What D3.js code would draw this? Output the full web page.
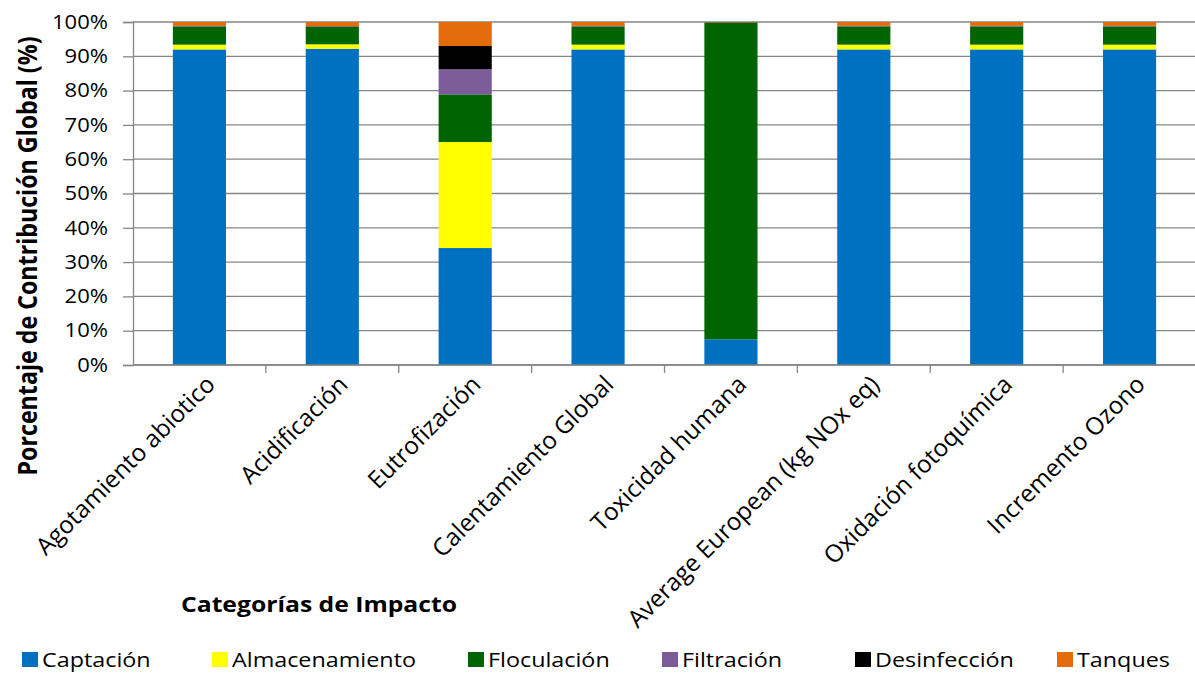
<!DOCTYPE html>
<html>
<head>
<meta charset="utf-8">
<script src="https://cdn.jsdelivr.net/npm/d3@7/dist/d3.min.js"></script>
<style>
body { margin: 0; background: #fff; }
text { font-family: "Open Sans", sans-serif; fill: #000; }
</style>
</head>
<body>
<script>
var w = 1195;
var h = 673;

//datos
//************** */
var categorias = ["Agotamiento abiotico", "Acidificación", "Eutrofización", "Calentamiento Global",
    "Toxicidad humana", "Average European (kg NOx eq)", "Oxidación fotoquímica", "Incremento Ozono"];
var etapas = ["Captación", "Almacenamiento", "Floculación", "Filtración", "Desinfección", "Tanques"];
var colores = ["#0070C0", "#FFFF00", "#006400", "#7B5C99", "#000000", "#E46C0A"];

var captacion      = [92.0, 92.2, 34.1, 92.0, 7.5, 92.0, 92.0, 92.0];
var almacenamiento = [1.4, 1.3, 30.9, 1.4, 0.0, 1.4, 1.4, 1.4];
var floculacion    = [5.3, 5.1, 13.9, 5.3, 92.3, 5.3, 5.3, 5.3];
var filtracion     = [0.1, 0.1, 7.3, 0.1, 0.05, 0.1, 0.1, 0.1];
var desinfeccion   = [0.1, 0.1, 6.8, 0.1, 0.05, 0.1, 0.1, 0.1];
var tanques        = [1.1, 1.2, 7.0, 1.1, 0.1, 1.1, 1.1, 1.1];
var yTicks = [0, 10, 20, 30, 40, 50, 60, 70, 80, 90, 100];

var series = [captacion, almacenamiento, floculacion, filtracion, desinfeccion, tanques];
var tabla = categorias.map(function (c, i) {
    var fila = { cat: c };
    etapas.forEach(function (e, j) { fila[e] = series[j][i]; });
    return fila;
});

var m = { left: 133, right: 1196, top: 22, bottom: 365 };
var sx = 1.15; // texto algo ensanchado como en el original

var svg = d3.select("body").append("svg")
    .attr("width", w)
    .attr("height", h);

var x = d3.scaleBand().domain(categorias).range([m.left, m.right]).paddingInner(0.6).paddingOuter(0.3);
var xb = d3.scaleBand().domain(categorias).range([m.left, m.right]);
var y = d3.scaleLinear().domain([0, 100]).range([m.bottom, m.top]);

//gridlines
svg.append("g")
    .selectAll("line")
    .data(yTicks)
    .enter().append("line")
    .attr("x1", m.left).attr("x2", m.right)
    .attr("y1", function (d) { return y(d); })
    .attr("y2", function (d) { return y(d); })
    .attr("stroke", "#868686")
    .attr("stroke-width", 1.3);

//barras apiladas
var stack = d3.stack().keys(etapas);
svg.append("g")
    .selectAll("g")
    .data(stack(tabla))
    .enter().append("g")
    .attr("fill", function (d, i) { return colores[i]; })
    .selectAll("rect")
    .data(function (d) { return d; })
    .enter().append("rect")
    .attr("x", function (d) { return x(d.data.cat); })
    .attr("width", x.bandwidth())
    .attr("y", function (d) { return y(d[1]); })
    .attr("height", function (d) { return Math.max(0, y(d[0]) - y(d[1])); });

//eje y
var ejeY = svg.append("g")
    .attr("transform", "translate(" + m.left + ",0)")
    .call(d3.axisLeft(y).tickValues(yTicks).tickFormat(function (d) { return d + "%"; }).tickSize(10));
ejeY.selectAll("text")
    .attr("x", 0)
    .attr("transform", "translate(-25,0) scale(1.13,1)")
    .style("font-size", "19.5px");
ejeY.selectAll("path, line").attr("stroke", "#868686").attr("stroke-width", 1.3);

//eje x
var ejeX = svg.append("g")
    .attr("transform", "translate(0," + m.bottom + ")");
ejeX.append("line")
    .attr("x1", m.left).attr("x2", m.right)
    .attr("stroke", "#868686").attr("stroke-width", 1.3);
ejeX.selectAll("line.tk")
    .data(categorias)
    .enter().append("line")
    .attr("class", "tk")
    .attr("x1", function (d) { return xb(d) + xb.bandwidth(); })
    .attr("x2", function (d) { return xb(d) + xb.bandwidth(); })
    .attr("y1", 0).attr("y2", 8)
    .attr("stroke", "#868686").attr("stroke-width", 1.3);
ejeX.selectAll("text")
    .data(categorias)
    .enter().append("text")
    .attr("transform", function (d) {
        return "translate(" + (xb(d) + xb.bandwidth() / 2 + 5) + ",9) rotate(-45)";
    })
    .attr("text-anchor", "end")
    .attr("dy", "0.7em")
    .style("font-size", "24.2px")
    .text(function (d) { return d; });

//titulos
svg.append("text")
    .attr("transform", "translate(37,256) scale(1.15,1) rotate(-90)")
    .attr("text-anchor", "middle")
    .style("font-size", "23.2px")
    .style("font-weight", "bold")
    .text("Porcentaje de Contribución Global (%)");

svg.append("text")
    .attr("transform", "translate(319,612) scale(1.15,1)")
    .attr("text-anchor", "middle")
    .style("font-size", "21.5px")
    .style("font-weight", "bold")
    .text("Categorías de Impacto");

//leyenda
var legX = [22, 212, 468, 662, 855, 1057];
var leyenda = svg.append("g").selectAll("g")
    .data(etapas)
    .enter().append("g")
    .attr("transform", function (d, i) { return "translate(" + legX[i] + ",652)"; });
leyenda.append("rect")
    .attr("width", 16).attr("height", 15)
    .attr("fill", function (d, i) { return colores[i]; });
leyenda.append("text")
    .attr("transform", "translate(20,15) scale(" + sx + ",1)")
    .style("font-size", "20.3px")
    .text(function (d) { return d; });
</script>
</body>
</html>
